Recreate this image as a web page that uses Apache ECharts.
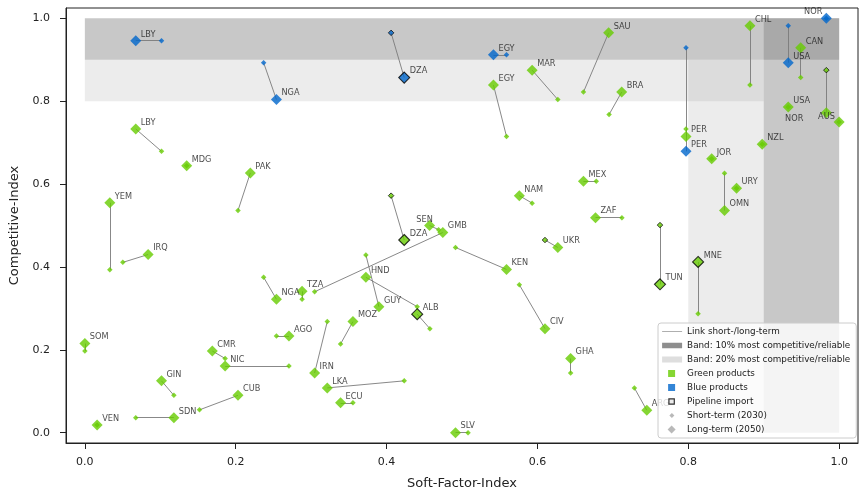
<!DOCTYPE html>
<html><head><meta charset="utf-8">
<script src="https://cdn.jsdelivr.net/npm/echarts@6/dist/echarts.min.js"></script>
<style>html,body{margin:0;padding:0;background:#fff}#c{width:863px;height:495px}</style>
</head><body><div id="c"></div>
<script>
// ---- data ----
const codes = ['LBY','NGA','DZA','EGY','PER','USA','NOR',
  'LBY','MDG','PAK','YEM','IRQ','NGA','TZA','GMB','SOM','AGO',
  'CMR','NIC','IRN','MOZ','GIN','CUB','SDN','VEN','LKA','ECU',
  'SEN','DZA','HND','GUY','ALB','KEN','UKR','CIV','GHA','SLV',
  'ZAF','EGY','MAR','SAU','NAM','MEX','BRA','CHL','PER','JOR',
  'NZL','CAN','USA','NOR','AUS','URY','OMN','TUN','MNE','ARG'];
const products = ['blue','blue','blue','blue','blue','blue','blue',
  'green','green','green','green','green','green','green','green','green','green',
  'green','green','green','green','green','green','green','green','green','green',
  'green','green','green','green','green','green','green','green','green','green',
  'green','green','green','green','green','green','green','green','green','green',
  'green','green','green','green','green','green','green','green','green','green'];
const shortX = [0.1016,0.237,0.406,0.559,0.797,0.9325,0.983,
  0.1016,0.135,0.203,0.0331,0.0503,0.237,0.288,0.3046,0.0,0.254,
  0.186,0.2706,0.3214,0.339,0.118,0.152,0.0675,0.0163,0.4234,0.3554,
  0.469,0.406,0.4406,0.3726,0.4574,0.4914,0.610,0.576,0.644,0.508,
  0.712,0.559,0.627,0.661,0.593,0.678,0.695,0.8817,0.797,0.831,
  0.898,0.949,0.9325,0.983,1.0,0.864,0.848,0.7625,0.813,0.7285];
const shortY = [0.946,0.893,0.965,0.912,0.929,0.982,1.0,
  0.679,0.644,0.536,0.393,0.411,0.375,0.322,0.340,0.197,0.233,
  0.179,0.161,0.268,0.214,0.090,0.055,0.036,0.0185,0.125,0.072,
  0.490,0.572,0.304,0.429,0.251,0.447,0.465,0.357,0.144,0.0,
  0.519,0.715,0.804,0.822,0.554,0.607,0.768,0.839,0.733,0.661,
  0.696,0.857,0.786,0.875,0.750,0.590,0.626,0.501,0.287,0.108];
const longX = [0.0675,0.254,0.4234,0.5417,0.797,0.9325,0.983,
  0.0675,0.135,0.2194,0.0331,0.0839,0.254,0.288,0.4746,0.0,0.2706,
  0.169,0.186,0.3046,0.3554,0.1016,0.203,0.118,0.0163,0.3214,0.339,
  0.457,0.4234,0.3726,0.3898,0.4406,0.559,0.627,0.610,0.644,0.4914,
  0.677,0.5417,0.593,0.6944,0.576,0.661,0.7117,0.8817,0.797,0.831,
  0.898,0.949,0.9325,0.983,1.0,0.864,0.848,0.7625,0.813,0.745];
const longY = [0.946,0.804,0.857,0.912,0.679,0.893,1.0,
  0.733,0.644,0.627,0.555,0.430,0.322,0.341,0.483,0.215,0.233,
  0.197,0.161,0.144,0.268,0.125,0.090,0.036,0.0185,0.108,0.072,
  0.500,0.465,0.375,0.304,0.286,0.394,0.447,0.251,0.179,0.0,
  0.519,0.839,0.875,0.965,0.572,0.607,0.822,0.982,0.715,0.661,
  0.696,0.929,0.786,0.772,0.750,0.590,0.536,0.358,0.412,0.054];
const pipeShort = [0,0,1,0,0,0,0,
  0,0,0,0,0,0,0,0,0,0,
  0,0,0,0,0,0,0,0,0,0,
  0,1,0,0,0,0,1,0,0,0,
  0,0,0,0,0,0,0,0,0,0,
  0,0,0,1,0,0,0,1,0,0];
const pipeLong = [0,0,1,0,0,0,0,
  0,0,0,0,0,0,0,0,0,0,
  0,0,0,0,0,0,0,0,0,0,
  0,1,0,0,1,0,0,0,0,0,
  0,0,0,0,0,0,0,0,0,0,
  0,0,0,0,0,0,0,1,1,0];
const tickValues = [0, 0.2, 0.4, 0.6, 0.8, 1.0];
const band10 = [[[0, 0.9], [1, 1]], [[0.9, 0], [1, 1]]];
const band20 = [[[0, 0.8], [0.9, 0.9]], [[0.8, 0], [0.9, 0.9]]];

// ---- styles ----
const FONT = 'DejaVu Sans';
const COLORS = { green: '#66cc00', blue: '#0066cc' };
const LONG_SIZE = 11, SHORT_SIZE = 5.5;
const labelTweaks = {
  6:  { position: 'left',  offset: [1.5, -6.3] },
  50: { position: 'left',  offset: [-17.5, 6.3] },
  51: { position: 'left',  offset: [1.2, -5.3] },
  27: { position: 'right', offset: [-18.8, -6] }
};

const linkData = codes.map((c, i) => ({ coords: [[shortX[i], shortY[i]], [longX[i], longY[i]]] }));
const shortData = codes.map((c, i) => ({
  name: c, value: [shortX[i], shortY[i]],
  itemStyle: { color: COLORS[products[i]], borderColor: '#000', borderWidth: pipeShort[i] ? 0.9 : 0 }
}));
const longData = codes.map((c, i) => {
  const d = {
    name: c, value: [longX[i], longY[i]],
    itemStyle: { color: COLORS[products[i]], borderColor: '#000', borderWidth: pipeLong[i] ? 1.1 : 0 }
  };
  if (labelTweaks[i]) d.label = labelTweaks[i];
  return d;
});

const toArea = (list) => list.map(r => [{ coord: r[0] }, { coord: r[1] }]);

const axisCommon = {
  type: 'value', min: -0.025, max: 1.025,
  splitLine: { show: false },
  axisLine: { show: true, onZero: false, lineStyle: { color: '#222', width: 1 } },
  axisTick: { show: true, inside: false, length: 6, customValues: tickValues, lineStyle: { color: '#222', width: 1 } },
  axisLabel: { customValues: tickValues, color: '#222', fontSize: 11, fontFamily: FONT, formatter: v => v.toFixed(1) },
  nameTextStyle: { color: '#222', fontSize: 13, fontFamily: FONT }
};

const P = 'path://M0,0M20,8';
const option = {
  animation: false,
  grid: { left: 66, right: 5, top: 8, bottom: 52, show: true, borderColor: '#222', borderWidth: 1, backgroundColor: 'transparent' },
  xAxis: Object.assign({}, axisCommon, {
    name: 'Soft-Factor-Index', nameLocation: 'middle', nameGap: 34,
    axisLabel: Object.assign({}, axisCommon.axisLabel, { margin: 14 })
  }),
  yAxis: Object.assign({}, axisCommon, {
    name: 'Competitive-Index', nameLocation: 'middle', nameGap: 41,
    axisLabel: Object.assign({}, axisCommon.axisLabel, { margin: 16 })
  }),
  legend: {
    orient: 'vertical', left: 658, top: 323, z: 10,
    itemWidth: 20, itemHeight: 8, itemGap: 3,
    padding: [3, 6, 3, 3.5],
    backgroundColor: 'rgba(255,255,255,0.8)', borderColor: '#cccccc', borderWidth: 1, borderRadius: 3,
    selectedMode: false,
    textStyle: { color: '#1a1a1a', fontSize: 8.8, lineHeight: 11, fontFamily: FONT },
    data: [
      { name: 'Link short-/long-term', icon: P + 'M0,3.55h20v0.9h-20z', itemStyle: { color: '#909090', borderWidth: 0 } },
      { name: 'Band: 10% most competitive/reliable', icon: P + 'M0,1.25h20v5.5h-20z', itemStyle: { borderWidth: 0 } },
      { name: 'Band: 20% most competitive/reliable', icon: P + 'M0,1h20v6h-20z', itemStyle: { borderWidth: 0 } },
      { name: 'Green products', icon: P + 'M6,0.5h7v7h-7z', itemStyle: { borderWidth: 0 } },
      { name: 'Blue products', icon: P + 'M6,0.5h7v7h-7z', itemStyle: { borderWidth: 0 } },
      { name: 'Pipeline import', icon: P + 'M6.8,1.3h5.4v5.4h-5.4z', itemStyle: { borderColor: '#000', borderWidth: 1.2 } },
      { name: 'Short-term (2030)', icon: P + 'M9.8,1.5L12.3,4L9.8,6.5L7.3,4Z', itemStyle: { borderWidth: 0 } },
      { name: 'Long-term (2050)', icon: P + 'M9.5,-0.2L13.7,4L9.5,8.2L5.3,4Z', itemStyle: { borderWidth: 0 } }
    ]
  },
  series: [
    { name: 'Link short-/long-term', type: 'scatter', data: [], itemStyle: { color: '#909090' } },
    { name: 'Band: 10% most competitive/reliable', type: 'scatter', data: [], itemStyle: { color: '#727272' },
      markArea: { silent: true, label: { show: false }, itemStyle: { color: 'rgba(128,128,128,0.43)', borderWidth: 0 }, data: toArea(band10) } },
    { name: 'Band: 20% most competitive/reliable', type: 'scatter', data: [], itemStyle: { color: '#d6d6d6' },
      markArea: { silent: true, label: { show: false }, itemStyle: { color: 'rgba(128,128,128,0.15)', borderWidth: 0 }, data: toArea(band20) } },
    { name: 'Green products', type: 'scatter', data: [], itemStyle: { color: COLORS.green } },
    { name: 'Blue products', type: 'scatter', data: [], itemStyle: { color: COLORS.blue } },
    { name: 'Pipeline import', type: 'scatter', data: [], itemStyle: { color: '#e6e6e6', borderColor: '#000', borderWidth: 1.2 } },
    { name: 'Short-term (2030)', type: 'scatter', data: [], itemStyle: { color: '#a8a8a8' } },
    { name: 'Long-term (2050)', type: 'scatter', data: [], itemStyle: { color: '#a8a8a8' } },
    { name: 'links', type: 'lines', coordinateSystem: 'cartesian2d', z: 2, silent: true,
      lineStyle: { color: '#7a7a7a', width: 0.9, opacity: 1, curveness: 0 }, data: linkData },
    { name: 'short', type: 'scatter', z: 3, symbol: 'diamond', symbolSize: SHORT_SIZE, data: shortData, silent: true },
    { name: 'long', type: 'scatter', z: 4, symbol: 'diamond', symbolSize: LONG_SIZE, data: longData, silent: true,
      label: { show: true, formatter: p => p.name, position: 'right', distance: 0, offset: [-0.5, -6.3],
        color: '#1a1a1a', fontSize: 8.2, fontFamily: FONT } }
  ]
};
const chart = echarts.init(document.getElementById('c'), null, { renderer: 'canvas' });
chart.setOption(option);
</script></body></html>
